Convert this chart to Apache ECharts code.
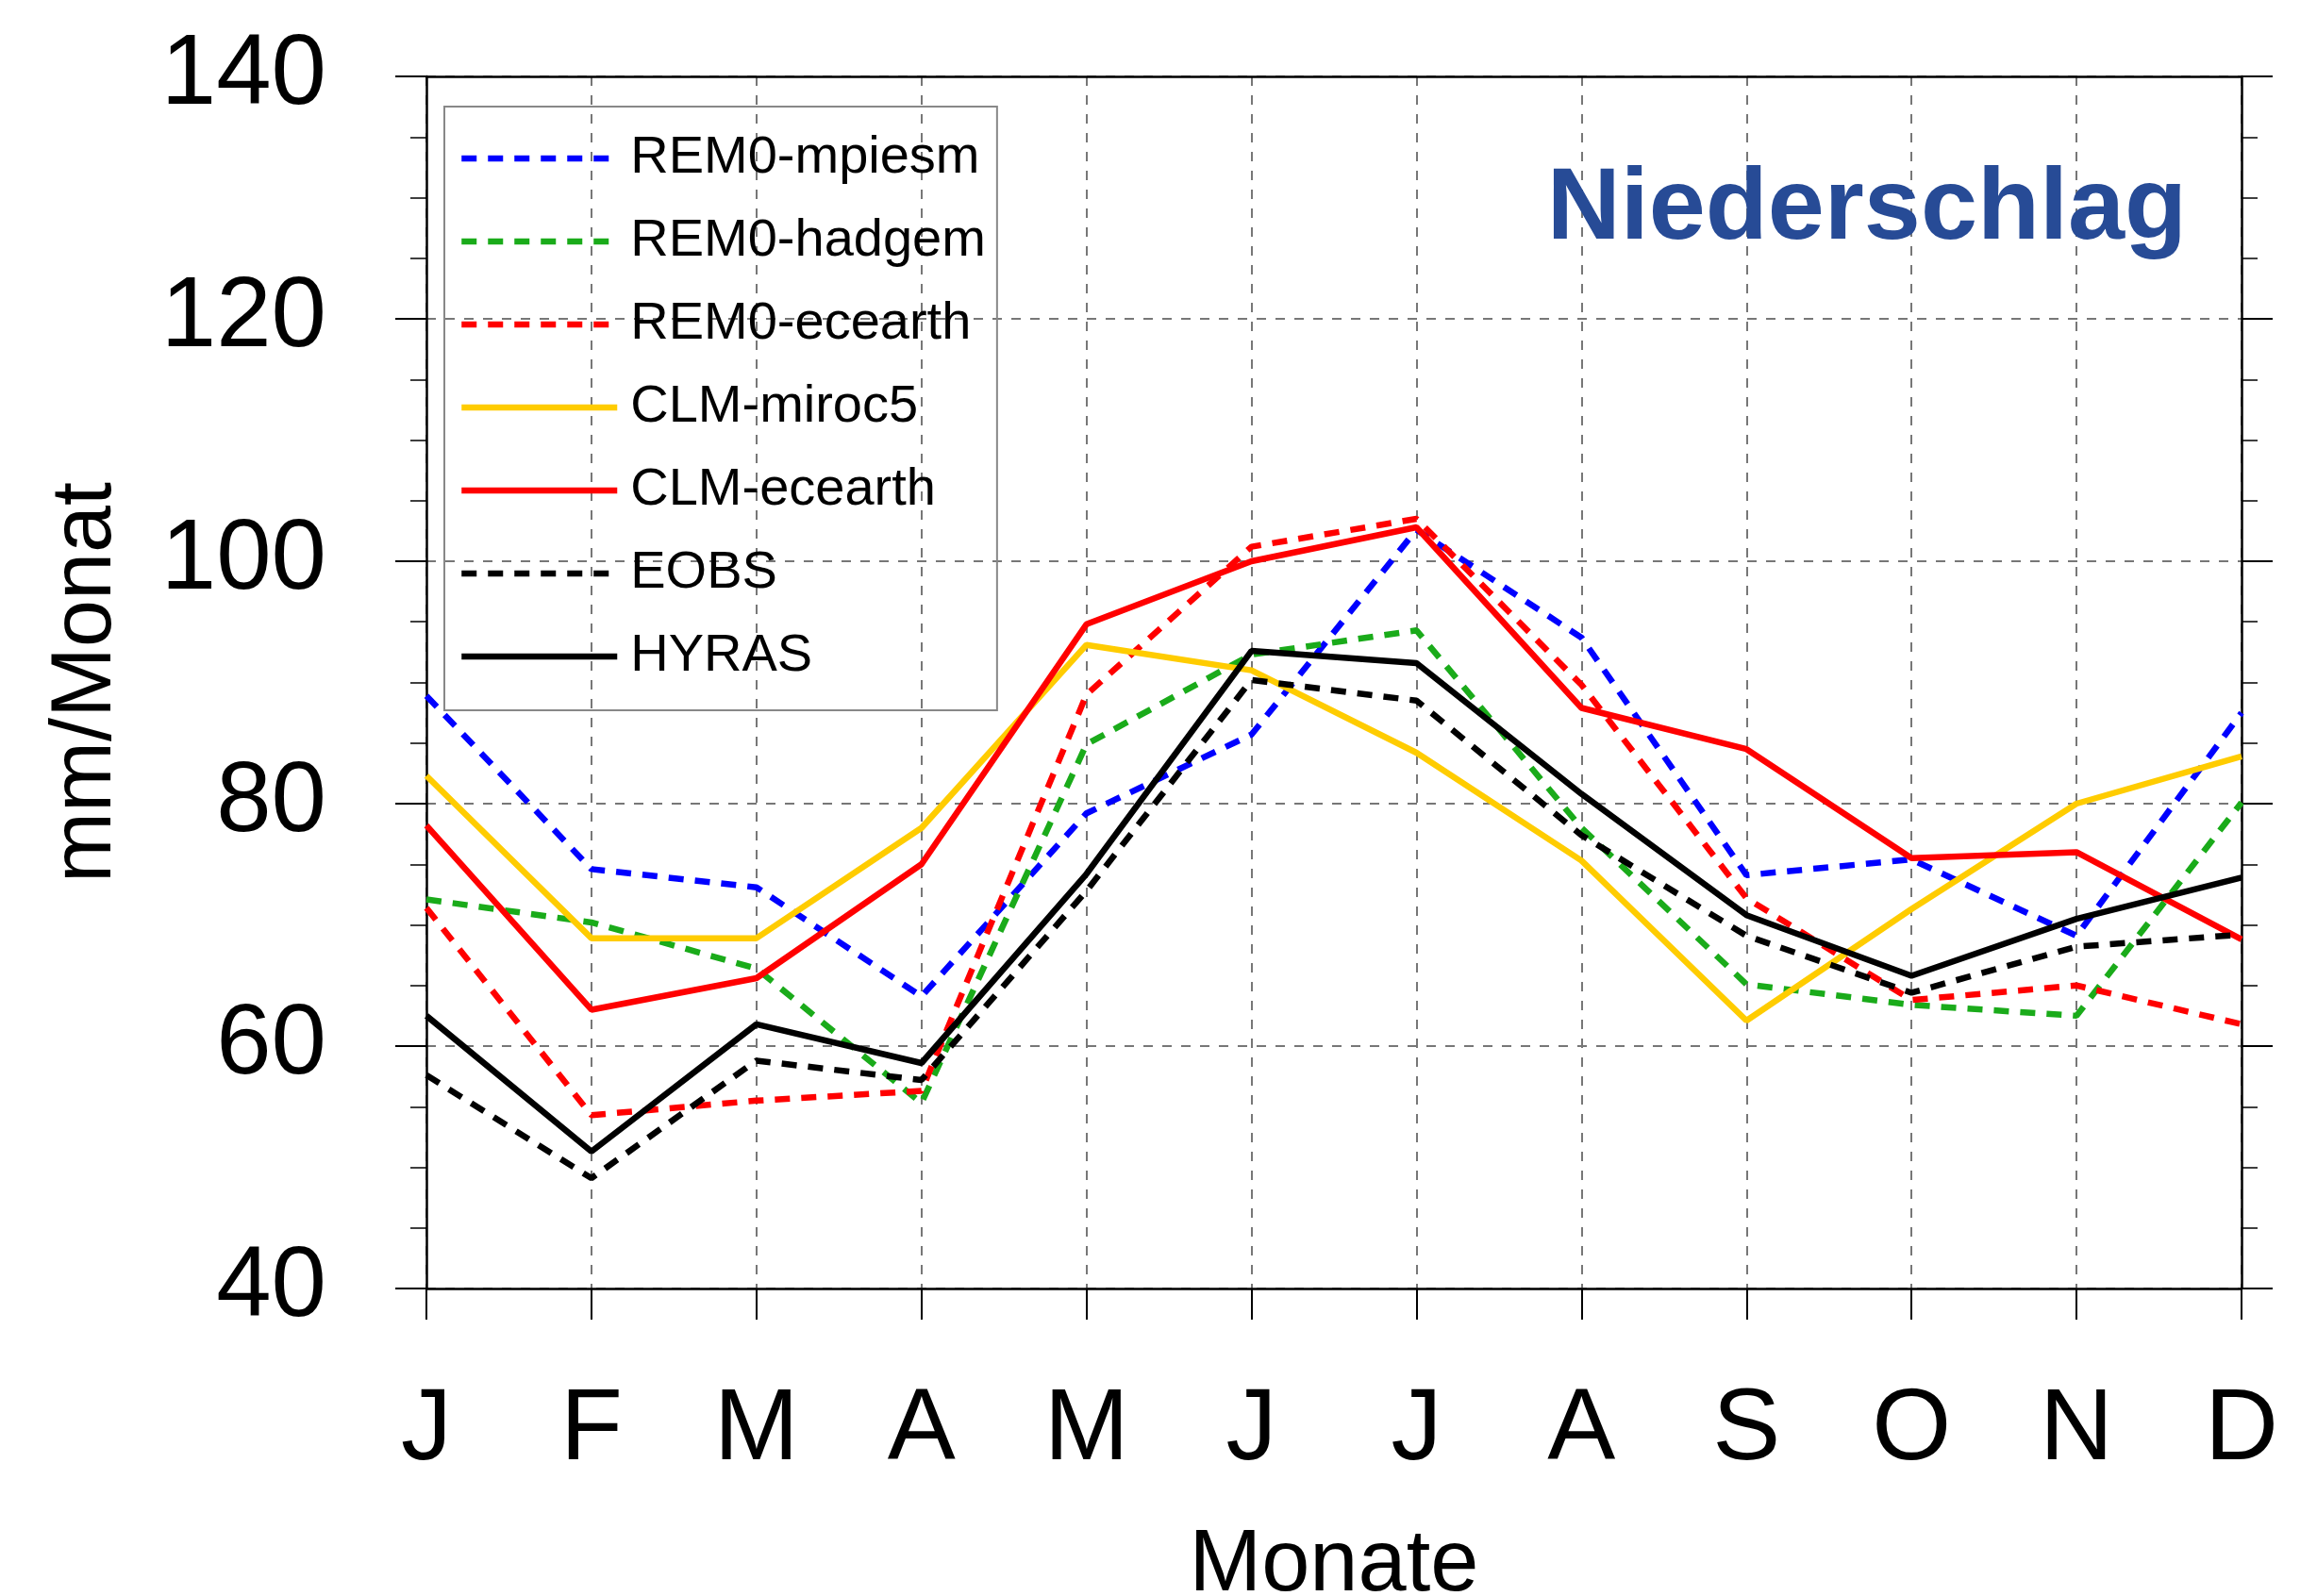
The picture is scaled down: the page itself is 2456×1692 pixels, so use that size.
<!DOCTYPE html>
<html>
<head>
<meta charset="utf-8">
<script src="https://cdn.jsdelivr.net/npm/echarts@6/dist/echarts.min.js"></script>
<style>
html,body{margin:0;padding:0;background:#fff;}
#chart{width:2456px;height:1692px;}
</style>
</head>
<body>
<div id="chart"></div>
<script>
var months = ['J','F','M','A','M','J','J','A','S','O','N','D'];
var yTicks = [40, 60, 80, 100, 120, 140];
var remoMpiesm  = [88.9, 74.6, 73.1, 64.1, 79.2, 85.7, 102.6, 93.7, 74.1, 75.4, 69.1, 87.5];
var remoHadgem  = [72.1, 70.2, 66.4, 55.3, 84.9, 92.3, 94.3, 78.0, 65.1, 63.4, 62.5, 80.1];
var remoEcearth = [71.4, 54.3, 55.5, 56.3, 89.0, 101.2, 103.5, 89.8, 72.2, 63.8, 65.0, 61.8];
var clmMiroc5   = [82.3, 68.9, 68.9, 78.0, 93.1, 91.0, 84.2, 75.3, 62.1, 71.3, 80.0, 83.9];
var clmEcearth  = [78.2, 63.0, 65.6, 75.0, 94.8, 100.0, 102.8, 87.9, 84.5, 75.5, 76.0, 68.8];
var eobs        = [57.6, 49.1, 58.8, 57.2, 72.8, 90.2, 88.5, 77.4, 69.1, 64.4, 68.2, 69.2];
var hyras       = [62.5, 51.3, 61.8, 58.6, 74.2, 92.6, 91.6, 80.8, 70.8, 65.8, 70.5, 73.9];

var FONT = '"Liberation Sans", Arial, Helvetica, sans-serif';
var DASH = [16, 12];
var LW = 6.5;

function mk(name, data, color, dashed) {
  return {
    name: name, type: 'line', data: data, symbol: 'none', smooth: false,
    lineStyle: { color: color, width: LW, type: dashed ? DASH : 'solid', cap: 'butt' },
    itemStyle: { color: color }
  };
}

var chart = echarts.init(document.getElementById('chart'), null, {renderer: 'canvas'});
var axisLineStyle = { color: '#000', width: 2.5 };
chart.setOption({
  animation: false,
  backgroundColor: '#fff',
  title: {
    text: 'Niederschlag', right: 138, top: 169, padding: 0,
    textStyle: { fontFamily: FONT, fontWeight: 'bold', fontSize: 108, color: '#274b96' }
  },
  legend: {
    orient: 'vertical', left: 471, top: 113,
    padding: [27, 12, 29, 15],
    itemWidth: 165, itemHeight: 30, itemGap: 32,
    borderColor: '#888', borderWidth: 2, backgroundColor: 'transparent',
    itemStyle: { opacity: 0 },
    lineStyle: { width: LW },
    textStyle: { fontFamily: FONT, fontSize: 56, color: '#000', lineHeight: 56, padding: [0,0,0,9] },
    data: ['REM0-mpiesm','REM0-hadgem','REM0-ecearth','CLM-miroc5','CLM-ecearth','EOBS','HYRAS']
  },
  grid: { left: 452, right: 80, top: 81, bottom: 326, containLabel: false, outerBoundsMode: 'none' },
  xAxis: [{
    type: 'category', data: months, boundaryGap: false, position: 'bottom',
    name: 'Monate', nameLocation: 'middle', nameGap: 249,
    nameTextStyle: { fontFamily: FONT, fontSize: 92, color: '#000' },
    axisLine: { show: true, lineStyle: axisLineStyle },
    axisTick: { show: true, inside: false, length: 33, lineStyle: { color: '#000', width: 2 } },
    axisLabel: { fontFamily: FONT, fontSize: 108, color: '#000', margin: 97 },
    splitLine: { show: true, lineStyle: { color: '#777', width: 2, type: [10, 10] } }
  }, {
    type: 'category', data: months, boundaryGap: false, position: 'top',
    axisLine: { show: true, lineStyle: axisLineStyle },
    axisTick: { show: false }, axisLabel: { show: false }, splitLine: { show: false }
  }],
  yAxis: [{
    type: 'value', min: yTicks[0], max: yTicks[yTicks.length - 1], interval: 20, position: 'left',
    name: 'mm/Monat', nameLocation: 'middle', nameGap: 315,
    nameTextStyle: { fontFamily: FONT, fontSize: 90, color: '#000' },
    axisLine: { show: true, lineStyle: axisLineStyle },
    axisTick: { show: true, inside: false, length: 33, lineStyle: { color: '#000', width: 2 } },
    minorTick: { show: true, splitNumber: 4, length: 17, lineStyle: { color: '#000', width: 1.5 } },
    axisLabel: { fontFamily: FONT, fontSize: 105, color: '#000', margin: 106 },
    splitLine: { show: true, lineStyle: { color: '#777', width: 2, type: [10, 10] } }
  }, {
    type: 'value', min: yTicks[0], max: yTicks[yTicks.length - 1], interval: 20, position: 'right',
    axisLine: { show: true, lineStyle: axisLineStyle },
    axisTick: { show: true, inside: false, length: 33, lineStyle: { color: '#000', width: 2 } },
    minorTick: { show: true, splitNumber: 4, length: 17, lineStyle: { color: '#000', width: 1.5 } },
    axisLabel: { show: false }, splitLine: { show: false }
  }],
  series: [
    mk('REM0-mpiesm', remoMpiesm, '#0000ff', true),
    mk('REM0-hadgem', remoHadgem, '#1aab1a', true),
    mk('REM0-ecearth', remoEcearth, '#ff0000', true),
    mk('CLM-miroc5', clmMiroc5, '#ffcc00', false),
    mk('CLM-ecearth', clmEcearth, '#ff0000', false),
    mk('EOBS', eobs, '#000000', true),
    mk('HYRAS', hyras, '#000000', false)
  ]
});
</script>
</body>
</html>
